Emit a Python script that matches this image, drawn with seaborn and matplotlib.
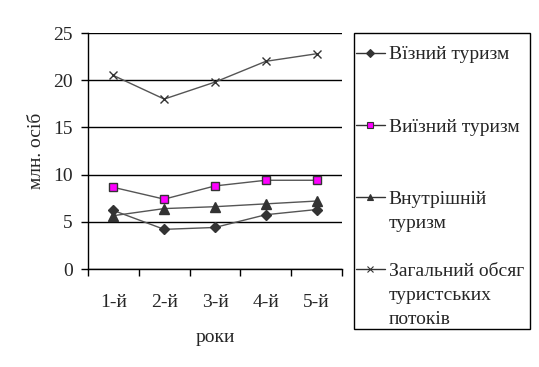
import matplotlib
matplotlib.use("Agg")
import matplotlib.pyplot as plt
from matplotlib.lines import Line2D
from matplotlib.patches import Rectangle
import seaborn as sns
import numpy as np
import pandas as pd

# дані з графіка
years = ["1-й", "2-й", "3-й", "4-й", "5-й"]
inbound = [6.2, 4.2, 4.4, 5.75, 6.3]
outbound = [8.65, 7.4, 8.8, 9.4, 9.4]
domestic = [5.65, 6.4, 6.6, 6.9, 7.2]
total = [20.5, 18.0, 19.8, 22.0, 22.8]

series = [
    ("Вїзний туризм", inbound, "D", "#333333", 5),
    ("Виїзний туризм", outbound, "s", "#ff00ff", 6),
    ("Внутрішній\nтуризм", domestic, "^", "#333333", 6.5),
    ("Загальний обсяг\nтуристських\nпотоків", total, "x", "#333333", 6),
]
# рядки легенди, з яких починається кожна серія
legend_rows = [0, 3, 6, 9]
n_rows = 12

sns.set_style("white")
plt.rcParams["font.family"] = ["Liberation Serif", "DejaVu Serif"]

W, H = 539, 367
fig = plt.figure(figsize=(W / 100, H / 100), dpi=100)
ax = fig.add_axes([88 / W, 1 - 269 / H, 254 / W, 236 / H])

xpos = np.arange(len(years)) + 0.5
for name, vals, mk, fc, ms in series:
    df = pd.DataFrame({"x": xpos, "y": vals})
    sns.lineplot(data=df, x="x", y="y", ax=ax, color="#555555", lw=1,
                 marker=mk, markersize=ms, markerfacecolor=fc,
                 markeredgecolor="#333333", markeredgewidth=1)

ax.set_xlim(0, 5)
ax.set_ylim(0, 25)
ax.set_yticks([0, 5, 10, 15, 20, 25])
ax.yaxis.grid(True, color="black", lw=1)
ax.set_axisbelow(True)
ax.set_xticks(np.arange(0, 6))
ax.set_xticklabels([])
ax.set_xticks(xpos, minor=True)
ax.set_xticklabels(years, minor=True)
ax.tick_params(axis="x", which="major", direction="out", length=5,
               width=1, color="black", bottom=True)
ax.tick_params(axis="x", which="minor", length=0, pad=18, labelsize=14)
ax.tick_params(axis="y", direction="out", length=5, width=1, color="black",
               left=True, labelsize=14, pad=6)
for s in ["top", "right"]:
    ax.spines[s].set_visible(False)
for s in ["left", "bottom"]:
    ax.spines[s].set_color("black")
    ax.spines[s].set_linewidth(1)

ax.set_xlabel("роки", fontsize=14, labelpad=13)
ax.set_ylabel("млн. осіб", fontsize=14, labelpad=6)

# легенда: рядки по сітці, підписи з кількох рядків вирівняні по верху
blank = Line2D([], [], alpha=0)
handles = [blank] * n_rows
labels = [" "] * n_rows
for (name, vals, mk, fc, ms), r in zip(series, legend_rows):
    parts = name.split("\n")
    handles[r] = Line2D([], [], color="#333333", lw=1, marker=mk,
                        markersize=4, markerfacecolor=fc,
                        markeredgecolor="#333333", markeredgewidth=0.8)
    for i, p in enumerate(parts):
        labels[r + i] = p

# рамка легенди окремо
fig.patches.append(Rectangle((354 / W, 1 - 329 / H), 176 / W, 296 / H,
                             transform=fig.transFigure, fill=False,
                             edgecolor="black", lw=1))
leg = ax.legend(handles, labels, loc="upper left",
                bbox_to_anchor=(350 / W, 1 - 329 / H, 180 / W, 289 / H),
                bbox_transform=fig.transFigure, frameon=False,
                fontsize=14, labelspacing=0.33, handlelength=1.5,
                handletextpad=0.2, borderpad=0.3, borderaxespad=0,
                mode="expand")

fig.savefig("out.png", dpi=100)
plt.close()
